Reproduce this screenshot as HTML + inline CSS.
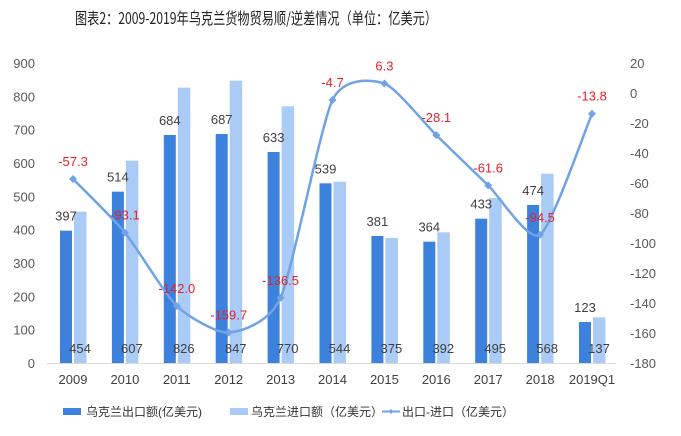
<!DOCTYPE html>
<html><head><meta charset="utf-8"><style>
html,body{margin:0;padding:0;background:#fff;}
svg{display:block;font-family:"Liberation Sans","Noto Sans CJK SC",sans-serif;}
</style></head><body>
<svg id="s" width="681" height="436" viewBox="0 0 681 436" xmlns="http://www.w3.org/2000/svg">
<text x="75" y="24" font-size="16" fill="#222" textLength="362" lengthAdjust="spacingAndGlyphs" font-family="'WenQuanYi Zen Hei','Noto Sans CJK SC',sans-serif">图表2：2009-2019年乌克兰货物贸易顺/逆差情况（单位：亿美元）</text>
<g id="g"></g>
<g font-size="12" fill="#333">
<rect x="63" y="408" width="18" height="7" fill="#3c82dc"/>
<text x="86" y="416">乌克兰出口额(亿美元)</text>
<rect x="230" y="408" width="18" height="7" fill="#a9cbf5"/>
<text x="251" y="416">乌克兰进口额（亿美元）</text>
<line x1="382" y1="411.5" x2="400" y2="411.5" stroke="#6fa3e6" stroke-width="2"/>
<path d="M391 409 L393.5 411.5 L391 414 L388.5 411.5Z" fill="#6fa3e6"/>
<text x="402" y="416">出口-进口（亿美元）</text>
</g>
</svg>
<script>
var g=document.getElementById('g'),h='';
var ex=[397,514,684,687,633,539,381,364,433,474,123],im=[454,607,826,847,770,544,375,392,495,568,137];
var df=[-57.3,-93.1,-142.0,-159.7,-136.5,-4.7,6.3,-28.1,-61.6,-94.5,-13.8];
var cat=['2009','2010','2011','2012','2013','2014','2015','2016','2017','2018','2019Q1'];
var B=363;
for(var v=0;v<=900;v+=100){h+='<text x="35" y="'+(B-v/3+5)+'" text-anchor="end" font-size="13" fill="#595959">'+v+'</text>';}
for(var v=20;v>=-180;v-=20){h+='<text x="630" y="'+(93-v*1.5+5)+'" font-size="13" fill="#595959">'+v+'</text>';}
h+='<line x1="47" y1="363.5" x2="616" y2="363.5" stroke="#d9d9d9" stroke-width="1"/>';
var P=[];
for(var i=0;i<11;i++){var c=73+51.9*i;
h+='<rect x="'+(c-13)+'" y="'+(B-ex[i]/3)+'" width="12" height="'+(ex[i]/3)+'" fill="#3c82dc"/>';
h+='<rect x="'+(c+1)+'" y="'+(B-im[i]/3)+'" width="12.5" height="'+(im[i]/3)+'" fill="#a9cbf5"/>';
h+='<text x="'+(c-7)+'" y="'+(B-ex[i]/3-10)+'" text-anchor="middle" font-size="13" fill="#404040">'+ex[i]+'</text>';
h+='<text x="'+(c+7)+'" y="353" text-anchor="middle" font-size="13" fill="#404040">'+im[i]+'</text>';
h+='<text x="'+c+'" y="384" text-anchor="middle" font-size="13" fill="#404040">'+cat[i]+'</text>';
P.push([c,93-df[i]*1.5]);}
var d='M'+P[0][0]+' '+P[0][1],k=9;
for(var i=0;i<10;i++){var p0=P[Math.max(i-1,0)],p1=P[i],p2=P[i+1],p3=P[Math.min(i+2,10)];
d+=' C'+(p1[0]+(p2[0]-p0[0])/k)+' '+(p1[1]+(p2[1]-p0[1])/k)+' '+(p2[0]-(p3[0]-p1[0])/k)+' '+(p2[1]-(p3[1]-p1[1])/k)+' '+p2[0]+' '+p2[1];}
h+='<path d="'+d+'" fill="none" stroke="#6fa3e6" stroke-width="2.5"/>';
for(var i=0;i<11;i++){var x=P[i][0],y=P[i][1];
h+='<path d="M'+x+' '+(y-4)+' L'+(x+4)+' '+y+' L'+x+' '+(y+4)+' L'+(x-4)+' '+y+'Z" fill="#6fa3e6"/>';
h+='<text x="'+x+'" y="'+(y-13)+'" text-anchor="middle" font-size="13" fill="#e8202a">'+df[i].toFixed(1)+'</text>';}
g.innerHTML=h;
</script>
</body></html>
